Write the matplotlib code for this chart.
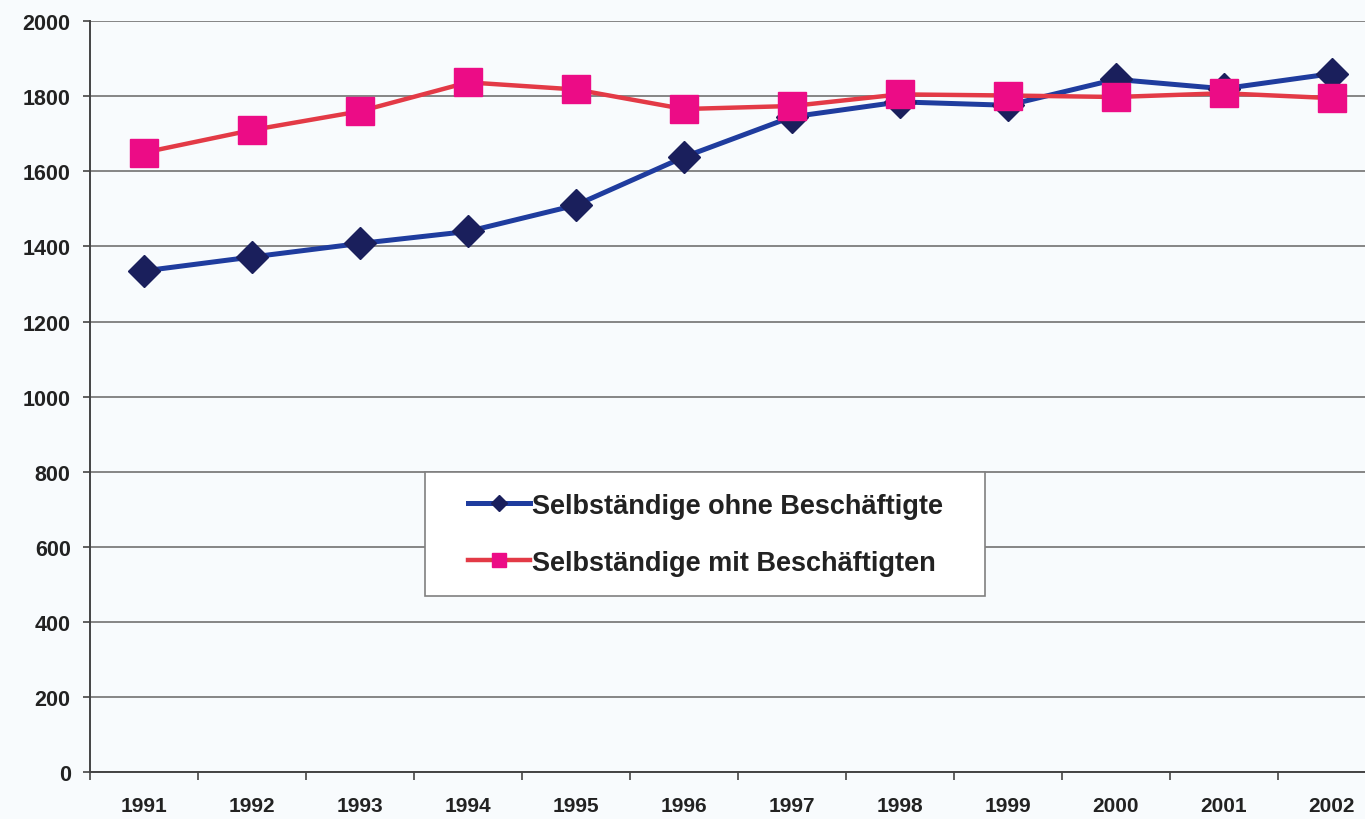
import numpy as np
import matplotlib.pyplot as plt
from matplotlib.patches import Rectangle

# -----------------------------
# Data
# -----------------------------
years = ["1991", "1992", "1993", "1994", "1995", "1996",
         "1997", "1998", "1999", "2000", "2001", "2002"]
ohne_beschaeftigte = [1335, 1372, 1408, 1440, 1510, 1638,
                      1745, 1785, 1776, 1845, 1820, 1860]
mit_beschaeftigten = [1650, 1710, 1760, 1837, 1818, 1766,
                      1774, 1805, 1802, 1798, 1808, 1795]
y_ticks = [0, 200, 400, 600, 800, 1000, 1200, 1400, 1600, 1800, 2000]

bg = "#f8fbfd"
plt.rcParams['font.family'] = ['Liberation Sans', 'DejaVu Sans']

fig = plt.figure(figsize=(13.65, 8.2), dpi=100, facecolor=bg)
ax = fig.add_axes([0.066, 0.057, 0.949, 0.916], facecolor=bg)

x = np.arange(len(years))

ax.plot(x, ohne_beschaeftigte, color="#1f3c9e", lw=3.6, marker="D",
        markersize=16, markerfacecolor="#1a1f5c", markeredgecolor="#1a1f5c",
        label="Selbständige ohne Beschäftigte", zorder=3)
ax.plot(x, mit_beschaeftigten, color="#e33a46", lw=3.2, marker="s",
        markersize=20, markerfacecolor="#ec0c86", markeredgecolor="#ec0c86",
        label="Selbständige mit Beschäftigten", zorder=4)

# -----------------------------
# Axes styling (Excel look)
# -----------------------------
ax.set_xlim(-0.5, 11.5)
ax.set_ylim(0, 2000)
ax.set_yticks(y_ticks)
ax.set_yticklabels([str(v) for v in y_ticks], fontsize=15.5, fontweight="bold",
                   color="#222222")
ax.yaxis.grid(True, color="#858585", lw=1.4)
ax.set_axisbelow(True)

ax.set_xticks(x)
ax.set_xticklabels(years, fontsize=15, fontweight="bold", color="#222222")
ax.tick_params(axis="x", length=0, pad=17)
ax.set_xticks(np.arange(-0.5, 12, 1), minor=True)
ax.tick_params(axis="x", which="minor", length=6, width=1.2, color="#444444")
ax.tick_params(axis="y", length=5, width=1.2, color="#444444", pad=9)

for side in ["top", "right"]:
    ax.spines[side].set_visible(False)
for side in ["left", "bottom"]:
    ax.spines[side].set_color("#444444")
    ax.spines[side].set_linewidth(1.4)

# legend box drawn separately (wider side padding than matplotlib's frame)
box = Rectangle((0.2587, 0.2344), 0.4324, 0.1651, transform=ax.transAxes,
                facecolor="white", edgecolor="#808080", lw=1.2, zorder=5)
ax.add_patch(box)
leg = ax.legend(loc="center", bbox_to_anchor=(0.4749, 0.317),
                prop={"size": 19.5, "weight": "bold"}, frameon=False,
                markerscale=0.5, handlelength=2.3, handletextpad=0.05,
                borderpad=0, labelspacing=1.15, borderaxespad=0)
leg.set_zorder(6)
for t in leg.get_texts():
    t.set_color("#222222")

fig.savefig("out.png", dpi=100, facecolor=bg)
